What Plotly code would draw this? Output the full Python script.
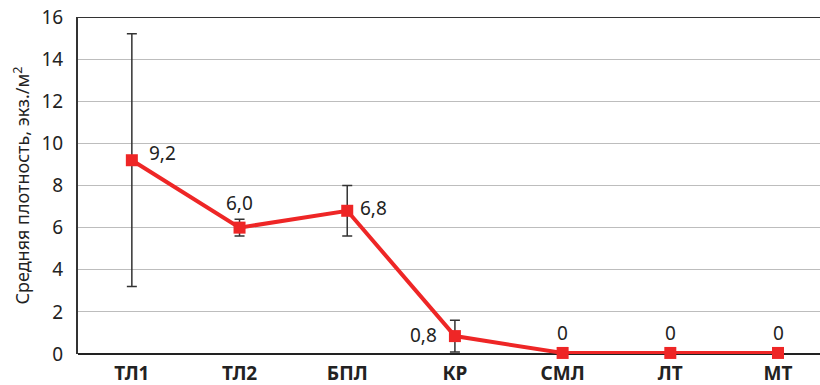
import plotly.graph_objects as go

categories = ["ТЛ1", "ТЛ2", "БПЛ", "КР", "СМЛ", "ЛТ", "МТ"]
density = [9.2, 6.0, 6.8, 0.85, 0.05, 0.05, 0.05]
errors = [6.0, 0.4, 1.2, 0.75, 0, 0, 0]
value_labels = ["9,2", "6,0", "6,8", "0,8", "0", "0", "0"]
y_ticks = [0, 2, 4, 6, 8, 10, 12, 14, 16]

# label placement (style): anchor, xshift, yshift
label_style = [("left", 15, 7), ("center", 0, 25), ("left", 11, 3),
               ("right", -16, 1), ("center", 0, 20), ("center", 0, 20),
               ("center", 0, 20)]

RED = "#ee2626"
FONT = "Noto Sans"
TXT = "#222222"

fig = go.Figure()
fig.add_trace(go.Scatter(
    x=categories, y=density,
    mode="lines+markers",
    line=dict(color=RED, width=4),
    marker=dict(symbol="square", size=12, color=RED),
    error_y=dict(type="data", array=errors, visible=True,
                 color="#333333", thickness=1.5, width=5),
    cliponaxis=False,
    showlegend=False,
))

for cat, val, lab, (anc, xs, ys) in zip(categories, density, value_labels, label_style):
    fig.add_annotation(x=cat, y=val, text=lab, showarrow=False,
                       xanchor=anc, yanchor="middle", xshift=xs, yshift=ys,
                       font=dict(family=FONT, size=19, color=TXT))

fig.update_layout(
    width=820, height=385,
    margin=dict(l=78, r=0, t=17, b=31),
    paper_bgcolor="white", plot_bgcolor="white",
    font=dict(family=FONT, color=TXT),
    xaxis=dict(
        range=[-0.5, 6.39],
        showgrid=False,
        showline=False,
        ticks="", ticklabelstandoff=6,
        tickfont=dict(family=FONT, size=19, color=TXT, weight="bold"),
        zeroline=False,
    ),
    yaxis=dict(
        range=[0, 16],
        tickvals=y_ticks,
        showgrid=True, gridcolor="#bdbdbd", gridwidth=1,
        showline=True, linecolor="#333333", linewidth=2,
        ticks="", ticklabelstandoff=9,
        tickfont=dict(family=FONT, size=19, color=TXT),
        zeroline=True, zerolinecolor="#222222", zerolinewidth=2,
        title=dict(text="Средняя плотность, экз./м<sup>2</sup>",
                   font=dict(family=FONT, size=18, color=TXT),
                   standoff=7),
    ),
)
fig.add_hline(y=16, line=dict(color="#333333", width=2))

fig.write_html("out.html", post_script="document.body.style.margin='0';",
               config={"displayModeBar": False})
